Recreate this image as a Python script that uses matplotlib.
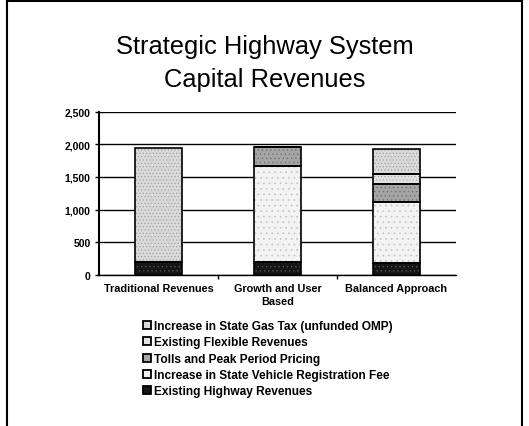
import numpy as np
import matplotlib.pyplot as plt
from matplotlib.lines import Line2D

plt.rcParams['font.family'] = ['Liberation Sans', 'DejaVu Sans']
plt.rcParams['hatch.linewidth'] = 0.5

# data (stack order: bottom to top)
categories = ['Traditional Revenues', 'Growth and User\nBased', 'Balanced Approach']
series_names = [
    'Existing Highway Revenues',
    'Increase in State Vehicle Registration Fee',
    'Tolls and Peak Period Pricing',
    'Existing Flexible Revenues',
    'Increase in State Gas Tax (unfunded OMP)',
]
existing_highway = [190, 190, 180]
vehicle_reg_fee = [0, 1480, 935]
tolls_peak = [0, 290, 270]
existing_flexible = [0, 0, 165]
gas_tax = [1750, 0, 380]
y_ticks = [0, 500, 1000, 1500, 2000, 2500]

series = [existing_highway, vehicle_reg_fee, tolls_peak, existing_flexible, gas_tax]
colors = ['#151515', '#f3f3f3', '#a5a5a5', '#e2e2e2', '#dadada']
hatch_colors = ['#555555', '#c4c4c4', '#707070', '#a8a8a8', '#a0a0a0']
hatches = ['....', '...', '....', '.....', '.....']

fig = plt.figure(figsize=(5.29, 4.27), dpi=100)
ax = fig.add_axes([0.187, 0.354, 0.675, 0.382])

x = np.arange(len(categories))
bottom = np.zeros(len(categories))
handles = []
for name, vals, c, hc, h in zip(series_names, series, colors, hatch_colors, hatches):
    vals = np.array(vals, dtype=float)
    # textured fill, then a black outline on top
    ax.bar(x, vals, 0.4, bottom=bottom, facecolor=c, edgecolor=hc,
           hatch=h, linewidth=0, zorder=3)
    ax.bar(x, vals, 0.4, bottom=bottom, fill=False, edgecolor='black',
           linewidth=1.2, zorder=4)
    bottom += vals
    handles.append(Line2D([], [], marker='s', linestyle='none', markersize=5.5,
                          markerfacecolor=c, markeredgecolor='black',
                          markeredgewidth=1.3, label=name))

ax.set_xlim(-0.5, 2.5)
ax.set_ylim(0, 2500)
ax.set_yticks(y_ticks)
ax.set_yticklabels([f'{v:,}' for v in y_ticks], fontsize=7.5, fontweight='bold')
ax.yaxis.grid(True, color='black', linewidth=1.0, zorder=0)
ax.set_axisbelow(True)
ax.set_xticks(x)
ax.set_xticklabels(categories, fontsize=7.8, fontweight='bold', linespacing=1.35)
ax.set_xticks([0.5, 1.5], minor=True)
ax.tick_params(axis='x', which='major', length=0, pad=6)
ax.tick_params(axis='x', which='minor', length=3, width=1)
ax.tick_params(axis='y', length=3, width=1, pad=3)
for s in ['top', 'right']:
    ax.spines[s].set_visible(False)
ax.spines['left'].set_linewidth(1.5)
ax.spines['bottom'].set_linewidth(1.0)

fig.text(0.5, 0.89, 'Strategic Highway System', ha='center', va='center',
         fontsize=18.4)
fig.text(0.5, 0.813, 'Capital Revenues', ha='center', va='center',
         fontsize=18.4)

fig.legend(handles=handles[::-1], loc='upper left',
           bbox_to_anchor=(0.26, 0.262), frameon=False,
           prop={'size': 8.6, 'weight': 'bold'}, handlelength=0.6,
           handletextpad=0.3, labelspacing=0.36, borderpad=0)

# outer frame
fig.add_artist(Line2D([0.014, 0.014], [0, 0.995], color='black', lw=1.5,
                      transform=fig.transFigure))
fig.add_artist(Line2D([0.987, 0.987], [0, 0.995], color='black', lw=1.5,
                      transform=fig.transFigure))
fig.add_artist(Line2D([0.014, 0.987], [0.995, 0.995], color='black', lw=1.5,
                      transform=fig.transFigure))

fig.savefig('out.png', dpi=100)
